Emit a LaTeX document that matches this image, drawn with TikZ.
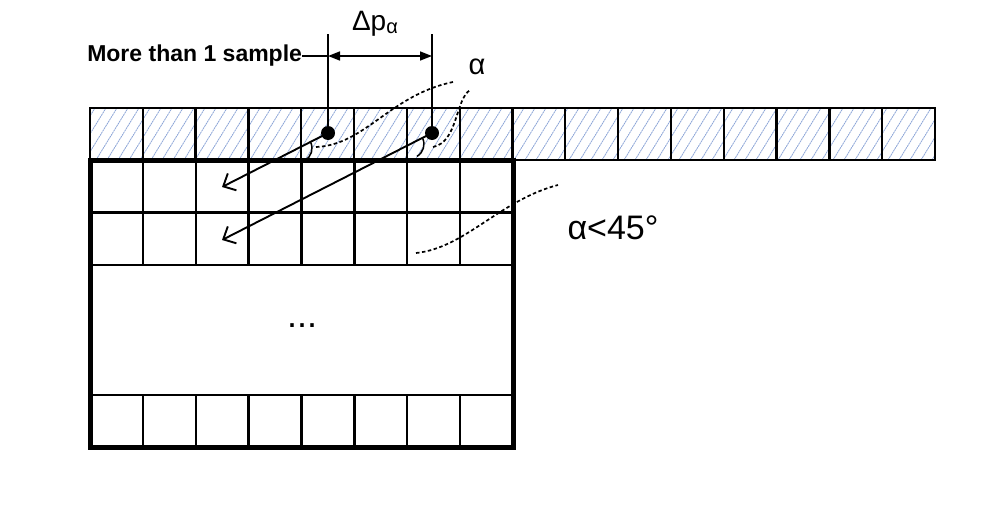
\documentclass[tikz,border=0pt]{standalone}
\usepackage{fontspec}
\setmainfont{Liberation Sans}
\usetikzlibrary{arrows.meta,calc}
\definecolor{hatchblue}{RGB}{140,165,215}
\tikzset{
  hatchline/.style={draw=hatchblue,line width=0.8pt,dash pattern=on 2pt off 0.6pt},
  gridline/.style={line width=2.3pt},
  outer/.style={line width=5pt},
  dotnode/.style={circle,fill=black,inner sep=0pt,minimum size=14pt},
  ray/.style={line width=1.9pt,-{Straight Barb[length=10pt,width=19pt,line width=1.9pt]}},
  anglearc/.style={line width=1.5pt},
  dimline/.style={line width=1.5pt},
  dimarrow/.style={line width=1.5pt,{Triangle[length=12pt,width=9pt]}-{Triangle[length=12pt,width=9pt]}},
  dashcurve/.style={line width=1.7pt,dash pattern=on 3.5pt off 2.5pt},
  lbl/.style={inner sep=0pt,outer sep=0pt}
}
\begin{document}
\begin{tikzpicture}[x=1pt,y=-1pt]
\useasboundingbox (0,0) rectangle (984,506);
% hatching of the top row
\begin{scope}
  \clip (90,108) rectangle (935,160);
  \foreach \i in {0,...,86} { \draw[hatchline] ({52+11*\i},160) -- ++(32,-52); }
\end{scope}
% top row grid
\draw[gridline] (90,108) rectangle (935,160);
\foreach \k in {1,...,15} { \draw[gridline] ({90+52.8125*\k},108) -- ({90+52.8125*\k},160); }
% lower block grid
\foreach \k in {1,...,7} {
  \draw[gridline] ({90+52.875*\k},160) -- ({90+52.875*\k},265);
  \draw[gridline] ({90+52.875*\k},395) -- ({90+52.875*\k},447);
}
\draw[gridline] (90,212.5) -- (513,212.5);
\draw[gridline] (90,265) -- (513,265);
\draw[gridline] (90,395) -- (513,395);
\draw[outer] (90,160) rectangle (513,447);
% dots
\node[dotnode] (d1) at (328,133) {};
\node[dotnode] (d2) at (432,133) {};
\coordinate (t1) at (222,187);
\coordinate (t2) at (222,240);
\draw[ray] (d1.center) -- (t1);
\draw[ray] (d2.center) -- (t2);
% angle arcs
\draw[anglearc] ($(d1.center)!0.283!(t1)$) ++(-27:14) arc[start angle=-27,end angle=60,radius=14];
\draw[anglearc] ($(d2.center)!0.105!(t2)$) ++(-27:14) arc[start angle=-27,end angle=60,radius=14];
% dashed curves
\draw[dashcurve] (316,147) .. controls (365,145) and (390,95) .. (453,82);
\draw[dashcurve] (433,147) .. controls (458,142) and (455,100) .. (470,90);
\draw[dashcurve] (416,253) .. controls (465,248) and (500,200) .. (558,185);
% dimension
\coordinate (v1) at (328,34);
\coordinate (v2) at (432,34);
\coordinate (m1) at (328,56);
\coordinate (m2) at (432,56);
\draw[dimline] (d1.center) -- (v1);
\draw[dimline] (d2.center) -- (v2);
\draw[dimarrow] (m1) -- (m2);
\node[lbl,anchor=east,font=\fontsize{23}{23}\selectfont\bfseries] (ms) at (302,56) {More than 1 sample};
\draw[dimline] (ms.east) -- (m1);
\node[lbl,anchor=base west,font=\fontsize{28}{28}\selectfont] (dp) at (352,30) {Δp{\fontsize{20}{20}\selectfont\raisebox{-3pt}{α}}};
\node[lbl,font=\fontsize{29}{29}\selectfont] (al) at (477,67) {α};
\node[lbl,font=\fontsize{34}{34}\selectfont] (cond) at (613,228) {α<45°};
\node[lbl,font=\fontsize{36}{36}\selectfont] (dots) at (302,326) {...};
\end{tikzpicture}
\end{document}
